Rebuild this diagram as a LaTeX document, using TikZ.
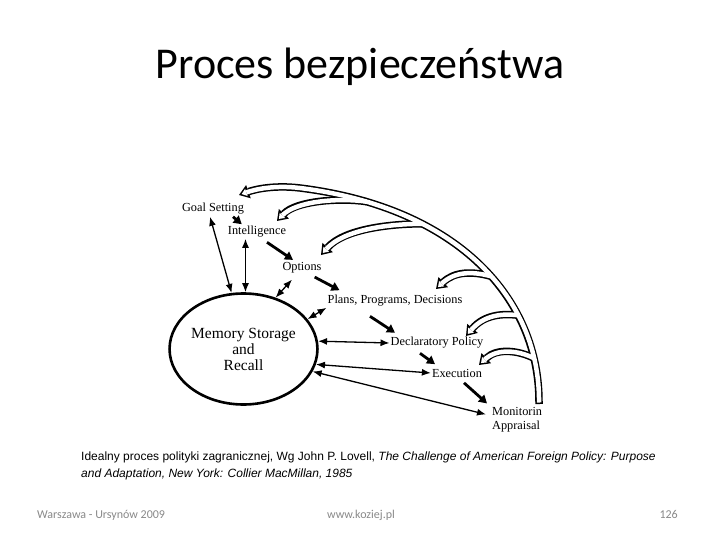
\documentclass[tikz,border=0pt]{standalone}
\usepackage{fontspec}
\setmainfont{Liberation Serif}
\newfontfamily\titlefont{Carlito}
\newfontfamily\capfont{Liberation Sans}
\usetikzlibrary{arrows.meta,shapes.geometric,calc}
\definecolor{footgray}{RGB}{137,137,137}
\begin{document}
\begin{tikzpicture}[x=1pt,y=-1pt,
  lbl/.style={font=\fontsize{12.3}{14}\selectfont, inner sep=1pt},
  thickarr/.style={line width=2.8pt,-{Triangle[width=9pt,length=8pt]}},
  dblarr/.style={line width=1.3pt,{Latex[length=9pt,width=7pt]}-{Latex[length=9pt,width=7pt]}},
  bandout/.style={line width=7.5pt,-{Triangle[width=14pt,length=10pt,line width=0pt]}},
  bandin/.style={line width=4.5pt,white,-{Triangle[width=7.5pt,length=5pt,line width=0pt]},shorten >=2.8pt},
  footer/.style={font=\titlefont\fontsize{12}{12}\selectfont, text=footgray, inner sep=0pt},
]
\fill[white] (0,0) rectangle (720,540);
\useasboundingbox (0,0) rectangle (720,540);

% title
\node[font=\titlefont\fontsize{44}{48}\selectfont] (title) at (360,67) {Proces bezpiecze\'nstwa};

% labels
\node[lbl] (goal) at (213,209) {Goal Setting};
\node[lbl] (intel) at (257,232) {Intelligence};
\node[lbl] (opt) at (302,268) {Options};
\node[lbl] (plans) at (395,301) {Plans, Programs, Decisions};
\node[lbl] (decl) at (437,343) {Declaratory Policy};
\node[lbl] (exec) at (457,373) {Execution};
\node[lbl, align=left, anchor=west] (mon) at (491,420) {Monitorin\\Appraisal};

\node[ellipse, draw, line width=2.6pt, minimum width=124pt, minimum height=111pt,
      inner sep=0pt, font=\fontsize{15.5}{16}\selectfont, align=center] (mem) at (243.5,349)
      {Memory Storage\\and\\Recall};

% trunk geometry
\coordinate (tb) at (539,404);
\coordinate (t1) at (540,300);
\coordinate (t2) at (460,208);
\coordinate (tm) at (300,188);
\coordinate (t3) at (275,185);
\coordinate (t4) at (256,189);
\coordinate (tip0) at (239,195);
\coordinate (tip1) at (277,221);
\coordinate (tip2) at (321,255);
\coordinate (tip3) at (436,289);
\coordinate (tip4) at (466,336);
\coordinate (tip5) at (479,365);
\path (tb) .. controls (t1) and (t2) .. coordinate[pos=0.15](j5) coordinate[pos=0.3](j4)
      coordinate[pos=0.45](j3) coordinate[pos=0.7](j2) coordinate[pos=0.85](j1) (tm);

% feedback band: black pass
\draw[bandout] (tb) .. controls (t1) and (t2) .. (tm) .. controls (t3) and (t4) .. (tip0);
\draw[bandout] (j1) .. controls +(-28,-4) and (296,201) .. (tip1);
\draw[bandout] (j2) .. controls +(-28,0) and (345,228) .. (tip2);
\draw[bandout] (j3) .. controls +(-18,-5) and (455,271) .. (tip3);
\draw[bandout] (j4) .. controls +(-16,-2) and (484,315) .. (tip4);
\draw[bandout] (j5) .. controls +(-16,-8) and (497,348) .. (tip5);
% white pass
\draw[bandin, shorten <=1.5pt] (tb) .. controls (t1) and (t2) .. (tm) .. controls (t3) and (t4) .. (tip0);
\draw[bandin] (j1) .. controls +(-28,-4) and (296,201) .. (tip1);
\draw[bandin] (j2) .. controls +(-28,0) and (345,228) .. (tip2);
\draw[bandin] (j3) .. controls +(-18,-5) and (455,271) .. (tip3);
\draw[bandin] (j4) .. controls +(-16,-2) and (484,315) .. (tip4);
\draw[bandin] (j5) .. controls +(-16,-8) and (497,348) .. (tip5);

% forward sequence arrows
\draw[thickarr] ($(goal.south)+(20,1)$) -- ($(intel.north west)+(15,-1)$);
\draw[thickarr] ($(intel.south)+(10,3.5)$) -- ($(opt.north)+(-9,-1.5)$);
\draw[thickarr] ($(opt.south east)+(-8,2.5)$) -- ($(plans.north west)+(13,-4)$);
\draw[thickarr] ($(plans.south)+(-25,8.5)$) -- ($(decl.north)+(-42,-3.5)$);
\draw[thickarr] ($(decl.south)+(-17,3.5)$) -- ($(exec.north)+(-22,-3.5)$);
\draw[thickarr] ($(exec.south)+(7,4.5)$) -- ($(mon.north west)+(-4,-3)$);

% memory links
\draw[dblarr] ($(goal.south)+(-3,1)$) -- (mem.102);
\draw[dblarr] (mem.88) -- (mem.88 |- intel.south);
\draw[dblarr] (mem.58) -- ($(opt.south)+(-10,5)$);
\draw[dblarr] (mem.25) -- (plans.south west);
\draw[dblarr] (mem.6) -- (decl.west);
\draw[dblarr] (mem.-12) -- (exec.west);
\draw[dblarr] (mem.-18) -- ($(mon.north west)+(-5,8)$);

% caption
\node[anchor=north west, font=\capfont\fontsize{12}{17}\selectfont, align=left, inner sep=0pt] (cap) at (81,452)
  {Idealny proces polityki zagranicznej, Wg John P. Lovell, \textit{The Challenge of American Foreign Policy: Purpose}\\
   \textit{and Adaptation, New York: Collier MacMillan, 1985}};

% footer
\node[footer, anchor=base west] (f1) at (37,518) {Warszawa - Ursynów 2009};
\node[footer, anchor=base] (f2) at (361,518) {www.koziej.pl};
\node[footer, anchor=base east] (f3) at (678,518) {126};
\end{tikzpicture}
\end{document}
